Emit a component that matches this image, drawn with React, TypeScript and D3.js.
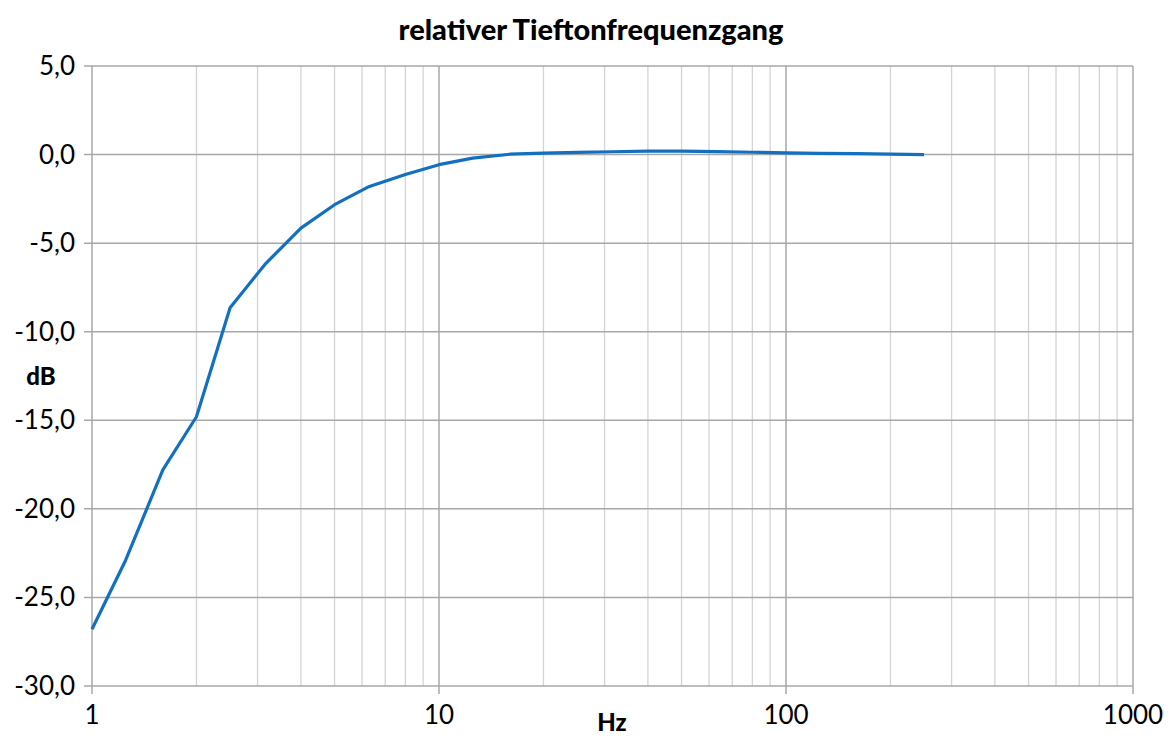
import React from "react";
import * as d3 from "d3";

const freqs = [1, 1.25, 1.6, 2, 2.5, 3.15, 4, 5, 6.3, 8, 10, 12.5, 16, 20, 25, 31.5, 40, 50, 63, 80, 100, 125, 160, 200, 250];
const levels = [-26.8, -22.9, -17.8, -14.8, -8.65, -6.2, -4.15, -2.83, -1.8, -1.13, -0.57, -0.2, 0.02, 0.08, 0.12, 0.16, 0.2, 0.19, 0.17, 0.13, 0.1, 0.07, 0.05, 0.03, 0.0];
const yTicks = [5, 0, -5, -10, -15, -20, -25, -30];
const xMajor = [1, 10, 100, 1000];

const W = 1171, H = 738;
const L = 92, R = 1133, T = 66, B = 686;
const FONT = "Lato, 'Open Sans', sans-serif";

export default function App() {
  const x = d3.scaleLog().domain([1, 1000]).range([L, R]);
  const y = d3.scaleLinear().domain([-30, 5]).range([B, T]);
  const minor: number[] = [];
  for (const d of [1, 10, 100]) for (let k = 2; k <= 9; k++) minor.push(d * k);
  const line = d3.line<number>().x((_, i) => x(freqs[i])).y((v) => y(v));
  const fmt = (v: number) => v.toFixed(1).replace(".", ",");
  return (
    <svg width={W} height={H} style={{ position: "absolute", left: 0, top: 0, background: "#fff" }}>
      <rect width={W} height={H} fill="#fff" />
      <text x={591} y={40} textAnchor="middle" fontFamily={FONT} fontWeight={900} fontSize={29}>relativer Tieftonfrequenzgang</text>
      {minor.map((f) => (
        <line key={"m" + f} x1={x(f)} x2={x(f)} y1={T} y2={B} stroke="#d4d4d4" strokeWidth={1.3} />
      ))}
      {xMajor.map((f) => (
        <line key={"M" + f} x1={x(f)} x2={x(f)} y1={T} y2={B + 8} stroke="#a8a8a8" strokeWidth={1.5} />
      ))}
      {yTicks.map((v) => (
        <line key={"y" + v} x1={L - 8} x2={R} y1={y(v)} y2={y(v)} stroke="#a8a8a8" strokeWidth={1.5} />
      ))}
      {yTicks.map((v) => (
        <text key={"yl" + v} x={75} y={y(v) + 9} textAnchor="end" fontFamily={FONT} fontSize={26}>{fmt(v)}</text>
      ))}
      {xMajor.map((f) => (
        <text key={"xl" + f} x={x(f)} y={724} textAnchor="middle" fontFamily={FONT} fontSize={26}>{String(f)}</text>
      ))}
      <text x={612} y={731} textAnchor="middle" fontFamily={FONT} fontWeight={900} fontSize={24}>Hz</text>
      <text x={41} y={385} textAnchor="middle" fontFamily={FONT} fontWeight={900} fontSize={24}>dB</text>
      <path d={line(levels) || ""} fill="none" stroke="#1370c0" strokeWidth={3.2} strokeLinejoin="round" />
    </svg>
  );
}
